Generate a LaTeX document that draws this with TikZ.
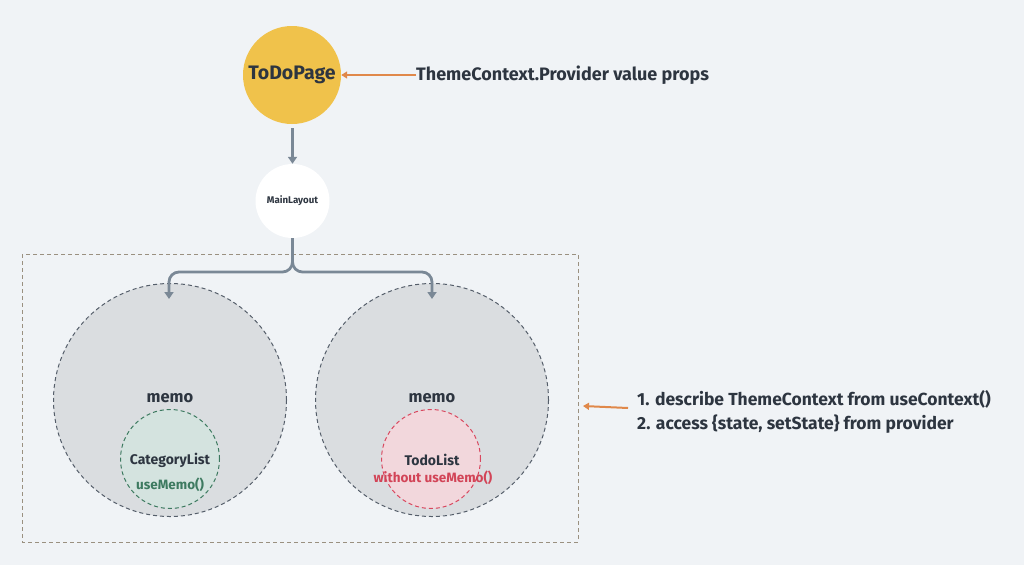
\documentclass[tikz,border=0pt]{standalone}
\usepackage{fontspec}
\setmainfont{Fira Sans}
\usetikzlibrary{arrows.meta}
\definecolor{bg}{HTML}{F0F3F6}
\definecolor{ink}{HTML}{2D3540}
\definecolor{gold}{HTML}{F0C24B}
\definecolor{orng}{HTML}{E0884A}
\definecolor{flowc}{HTML}{7A8896}
\definecolor{memofill}{HTML}{DADDE0}
\definecolor{memoline}{HTML}{555E6A}
\definecolor{boxline}{HTML}{9A9080}
\definecolor{gfill}{HTML}{D4E3DF}
\definecolor{gline}{HTML}{3D7A60}
\definecolor{rfill}{HTML}{F2D7DC}
\definecolor{rline}{HTML}{D9485F}
\definecolor{rtext}{HTML}{D24457}
\tikzset{
  flow/.style={draw=flowc, line width=2.8pt, -{Triangle[length=7pt,width=9pt]}},
  hint/.style={draw=orng, line width=2pt, -{Triangle[length=6pt,width=7pt]}},
  longdash/.style={dash pattern=on 4pt off 3pt},
  memocirc/.style={circle, draw=memoline, fill=memofill, longdash, line width=1pt, minimum size=233pt, inner sep=0pt},
  inner/.style={circle, longdash, line width=1pt, minimum size=99pt, inner sep=0pt},
  lbl/.style={text=ink, font=\bfseries, inner sep=0pt},
}
\begin{document}
\begin{tikzpicture}[x=1pt,y=-1pt]
\fill[bg] (0,0) rectangle (1024,565);
\useasboundingbox (0,0) rectangle (1024,565);

% dashed container
\draw[boxline, longdash, line width=1pt] (22,254) rectangle (578,542);

% top nodes
\node[circle, fill=gold, minimum size=98pt, inner sep=0pt, text=ink, font=\fontsize{19.5}{22}\selectfont\bfseries] (tdp) at (292,75) {ToDoPage};
\node[lbl, anchor=west, font=\fontsize{18}{21}\selectfont\bfseries] (prov) at (416,75) {ThemeContext.Provider value props};
\draw[hint] (prov.west) -- (tdp.east);

\node[circle, fill=white, minimum size=74pt, inner sep=0pt, text=ink, font=\fontsize{9.7}{11}\selectfont\bfseries] (ml) at (292.5,201) {MainLayout};
\coordinate (tdpb) at (292.5,128);
\draw[flow] (tdpb) -- (ml.north);

% memo circles
\node[memocirc] (m1) at (170,400) {};
\node[memocirc] (m2) at (432,400) {};
\node[lbl, font=\fontsize{16.5}{19}\selectfont\bfseries] (m1t) at (170,398) {memo};
\node[lbl, font=\fontsize{16.5}{19}\selectfont\bfseries] (m2t) at (432,398) {memo};

\coordinate (j1) at (169,299);
\coordinate (j2) at (432,299);
\draw[flow, rounded corners=10pt] (ml.south) -- (292.5,272) -- (169,272) -- (j1);
\draw[flow, rounded corners=10pt] (ml.south) -- (292.5,272) -- (432,272) -- (j2);

% inner circles
\node[inner, draw=gline, fill=gfill] (cl) at (170,459) {};
\node[lbl, font=\fontsize{14}{16}\selectfont\bfseries] (clt) at (170,460) {CategoryList};
\node[lbl, text=gline, font=\fontsize{13.5}{15}\selectfont\bfseries] (clu) at (170,485) {useMemo()};

\node[inner, draw=rline, fill=rfill] (tl) at (431,459) {};
\node[lbl, font=\fontsize{14}{16}\selectfont\bfseries] (tlt) at (432,460) {TodoList};
\node[lbl, text=rtext, font=\fontsize{13.5}{16}\selectfont\bfseries] (tlu) at (433,478) {without useMemo()};

% right notes
\node[lbl, anchor=west, align=left, font=\fontsize{17.5}{24}\selectfont\bfseries] (note) at (637,412) {1. describe ThemeContext from useContext()\\2. access \{state, setState\} from provider};
\coordinate (boxr) at (583,406);
\draw[hint] (628,408) -- (boxr);
\end{tikzpicture}
\end{document}
